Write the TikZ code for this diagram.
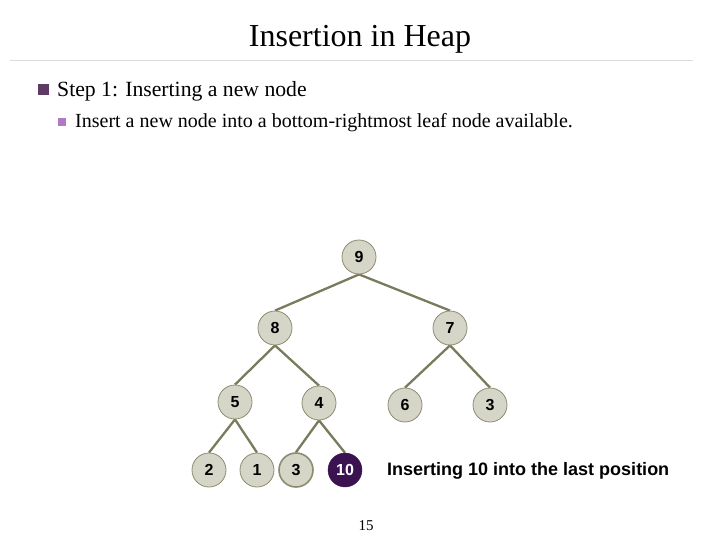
\documentclass[tikz,border=0pt]{standalone}
\usepackage{fontspec}
\usetikzlibrary{backgrounds}
\setmainfont{Liberation Serif}
\newfontfamily\arialfont{Liberation Sans}
\definecolor{nodefill}{HTML}{D6D6C8}
\definecolor{nodeline}{HTML}{8C8C70}
\definecolor{edgecol}{HTML}{7A7A5C}
\definecolor{hotfill}{HTML}{3A1350}
\definecolor{bulletA}{HTML}{5E3A64}
\definecolor{bulletB}{HTML}{B27AC0}
\definecolor{rulecol}{HTML}{DCDCDC}
\tikzset{
  hnode/.style={circle, minimum size=34pt, inner sep=0pt, fill=nodefill, draw=nodeline, line width=0.8pt, font=\arialfont\bfseries\fontsize{16}{18}\selectfont},
  hotnode/.style={circle, minimum size=34pt, inner sep=0pt, fill=hotfill, draw=hotfill, text=white, font=\arialfont\bfseries\fontsize{16}{18}\selectfont},
  edge/.style={draw=edgecol, line width=2.3pt},
}
\begin{document}
\begin{tikzpicture}[x=1pt,y=-1pt]
\useasboundingbox (0,0) rectangle (720,540);
\node[font=\fontsize{32}{36}\selectfont] (title) at (360,39) {Insertion in Heap};
\draw[rulecol, line width=0.8pt] (10,60) -- (693,60);
\fill[bulletA] (38,84) rectangle (49,95);
\node[anchor=west, inner sep=0pt, font=\fontsize{21.7}{24}\selectfont] (s1) at (57,91) {Step 1: Inserting a new node};
\fill[bulletB] (58,118) rectangle (66,126);
\node[anchor=west, inner sep=0pt, font=\fontsize{20}{22}\selectfont] (s2) at (75,123) {Insert a new node into a bottom-rightmost leaf node available.};

\node[hnode] (n9) at (359,257) {9};
\node[hnode] (n8) at (275,328) {8};
\node[hnode] (n7) at (450,328) {7};
\node[hnode] (n5) at (235,402) {5};
\node[hnode] (n4) at (319,403) {4};
\node[hnode] (n6) at (405,405) {6};
\node[hnode] (n3r) at (490,405) {3};
\node[hnode] (n2) at (209,470) {2};
\node[hnode] (n1) at (257,470) {1};
\node[hnode, line width=1.6pt] (n3) at (296,470) {3};
\node[hotnode] (n10) at (345,470) {10};

\begin{scope}[on background layer]
\path[edge] (n9.south) -- (n8.north);
\path[edge] (n9.south) -- (n7.north);
\path[edge] (n8.south) -- (n5.north);
\path[edge] (n8.south) -- (n4.north);
\path[edge] (n7.south) -- (n6.north);
\path[edge] (n7.south) -- (n3r.north);
\path[edge] (n5.south) -- (n2.north);
\path[edge] (n5.south) -- (n1.north);
\path[edge] (n4.south) -- (n3.north);
\path[edge] (n4.south) -- (n10.north);
\end{scope}

\node[anchor=west, inner sep=0pt, font=\arialfont\bfseries\fontsize{18}{20}\selectfont] (cap) at (387,471) {Inserting 10 into the last position};
\node[font=\fontsize{15}{17}\selectfont] (pg) at (366,526) {15};
\end{tikzpicture}
\end{document}
